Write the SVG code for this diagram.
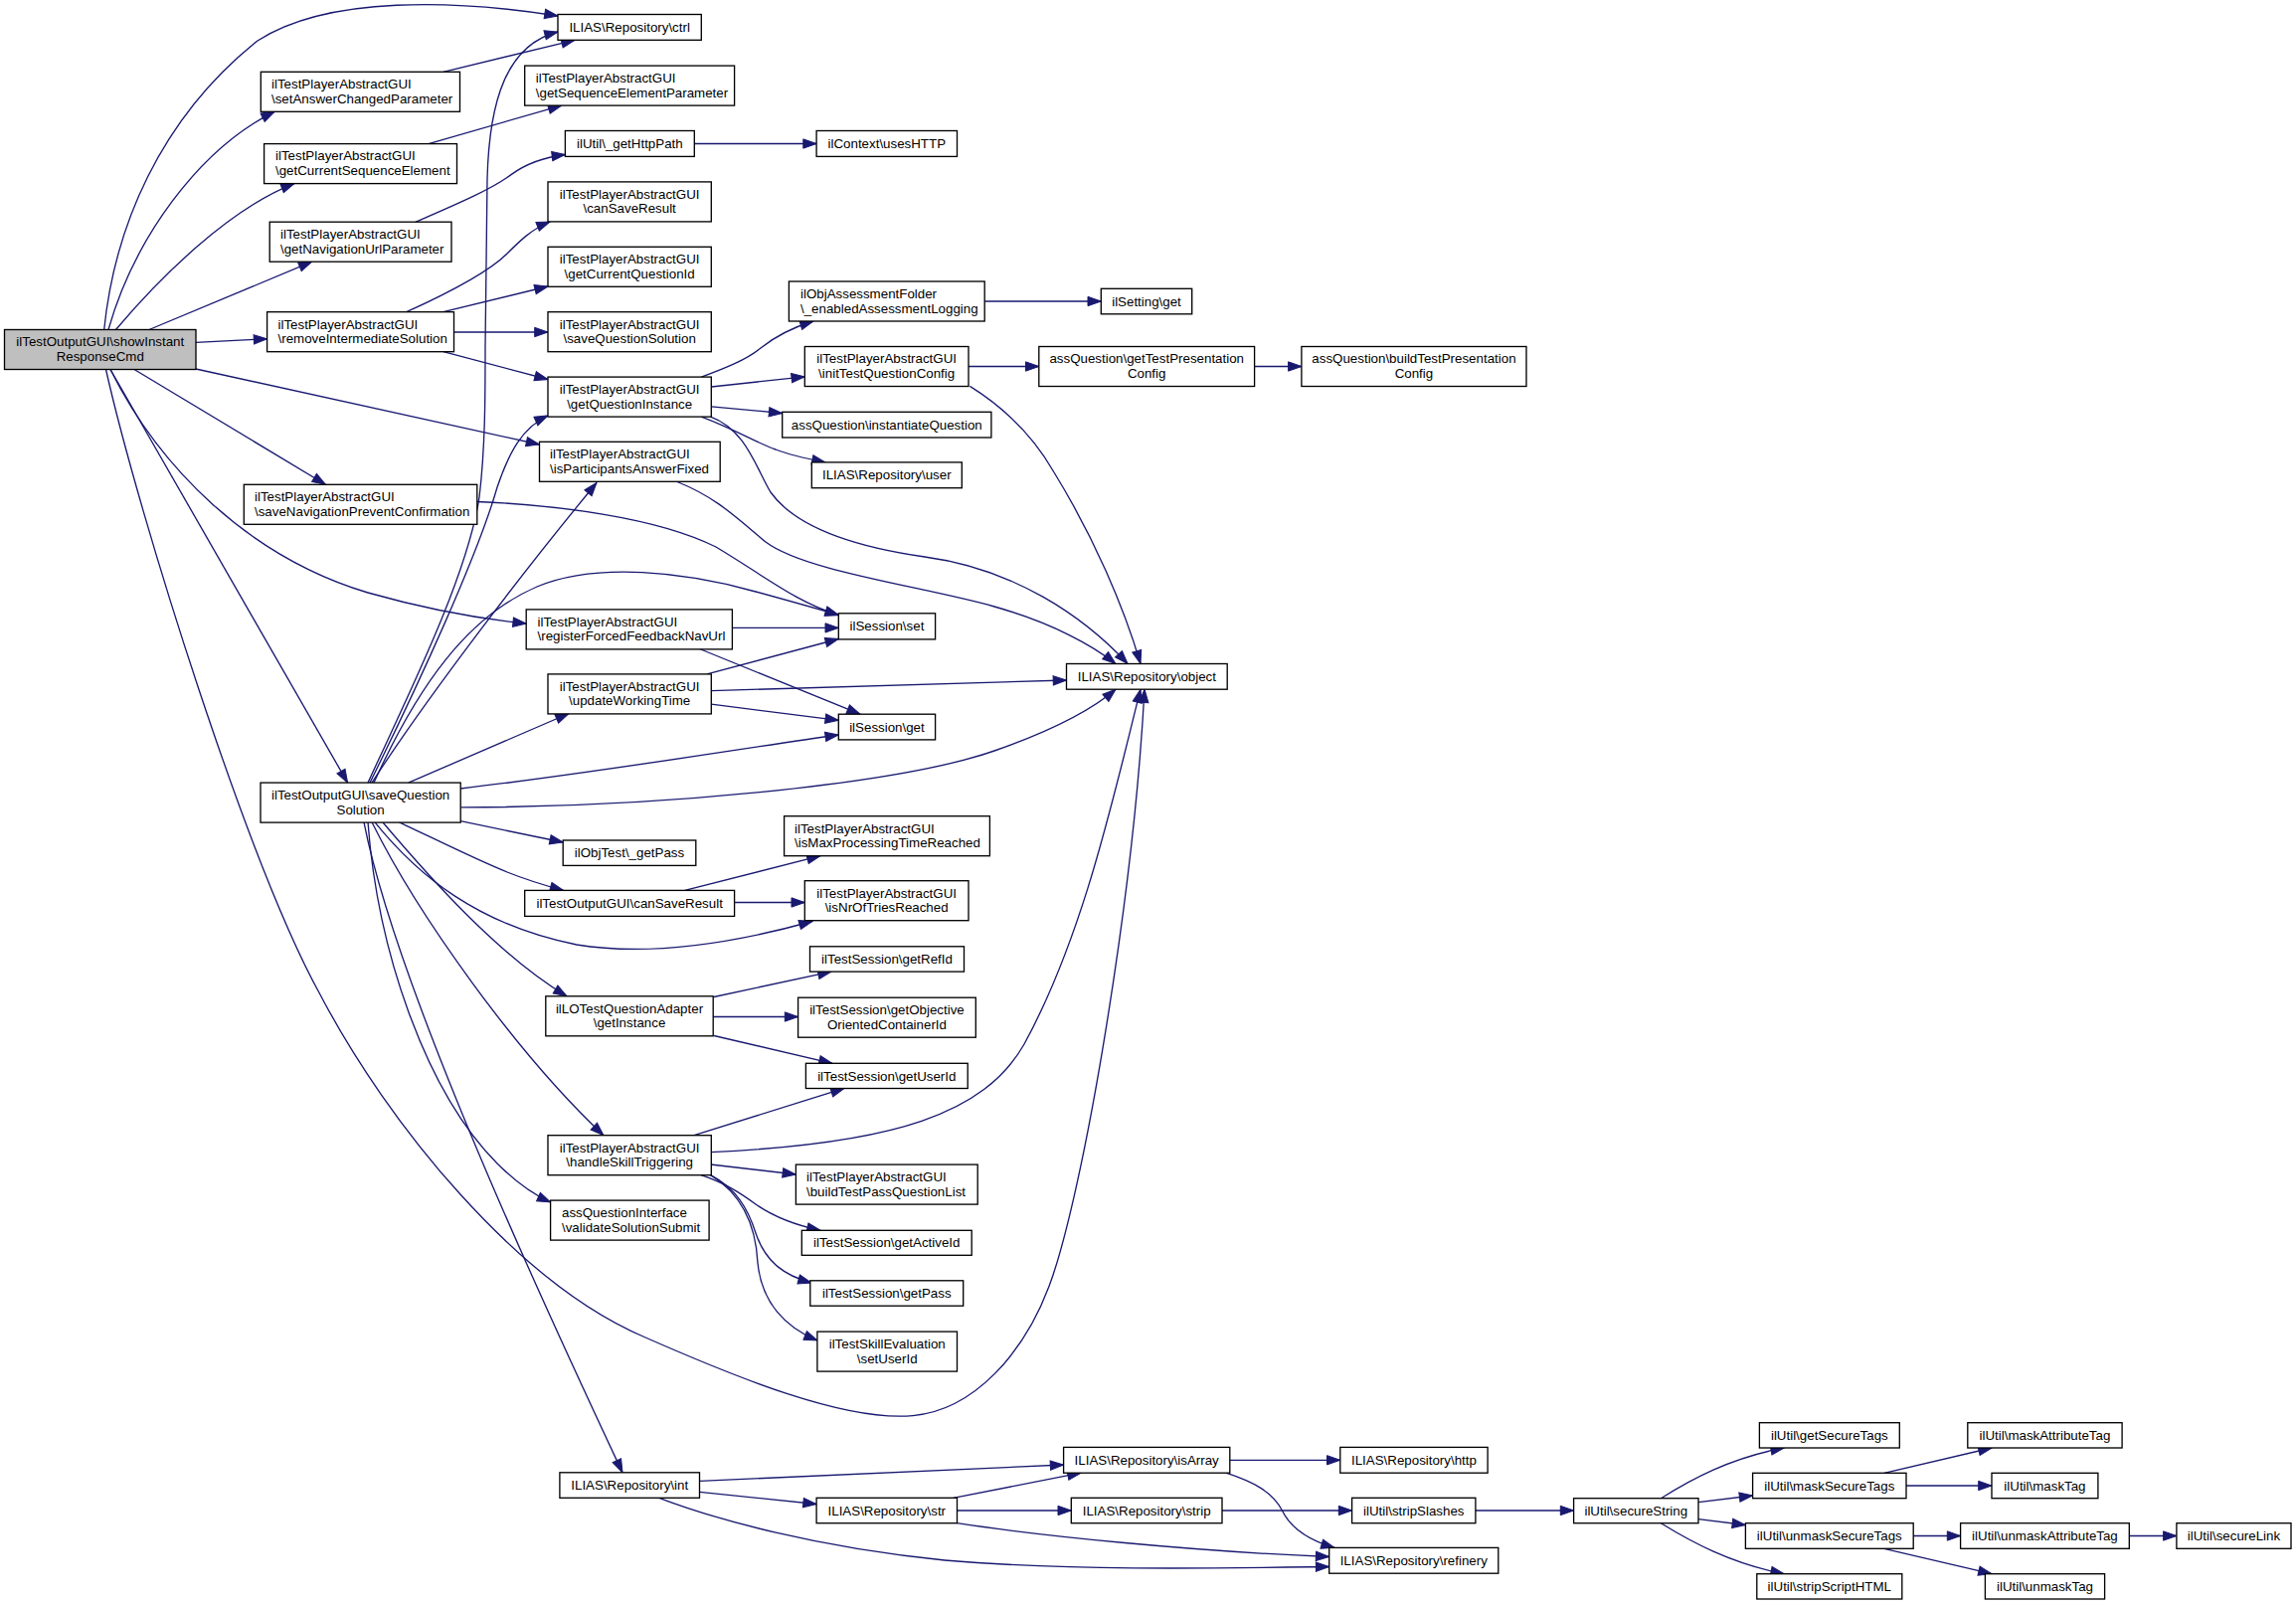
<svg xmlns="http://www.w3.org/2000/svg" width="2309" height="1614" viewBox="0 0 2309 1614">
<style>
.n rect{fill:#fff;stroke:#000;stroke-width:1.33}
.root rect{fill:#bfbfbf}
text{font-family:"Liberation Sans",Arial,Helvetica,sans-serif;font-size:13.33px;fill:#000}
.c{text-anchor:middle}
.l{text-anchor:start}
#edges path{fill:none;stroke:#191970;stroke-width:1.33;marker-end:url(#a)}
</style>
<defs>
<marker id="a" markerUnits="userSpaceOnUse" markerWidth="14" markerHeight="10" refX="13.3" refY="4.67" orient="auto" overflow="visible">
<path d="M0,0 L13.3,4.67 L0,9.33 z" fill="#191970" stroke="#191970" stroke-width="1"/>
</marker>
</defs>
<rect x="0" y="0" width="2309" height="1614" fill="#fff"/>
<g id="edges">
<path d="M104.7,331.5 C115,230 160,120 259,41 C330,-5 460,0 561,16"/>
<path d="M109,331.5 C135,240 200,150 276,112.3"/>
<path d="M116.5,331.5 C160,280 230,210 296,184.6"/>
<path d="M150,331.5 L313.7,263.2"/>
<path d="M197,344.4 L268.6,340.8"/>
<path d="M197,371 L542.5,447"/>
<path d="M135,371.5 L327.4,487.3"/>
<path d="M111,371.5 C160,470 250,560 370,596 C430,613 480,622 529.2,627"/>
<path d="M111,371.5 L349.6,787.1"/>
<path d="M106.5,371.5 C140,520 250,870 321.9,1000 C390,1130 520,1290 648,1344.5 C740,1385 850,1430 918,1423.6 C980,1418 1030,1360 1055,1293.6 C1090,1200 1140,900 1151,693.2"/>
<path d="M445.8,72.3 L578,40.3"/>
<path d="M431,144.6 L564.7,106.1"/>
<path d="M418,223.2 C460,205 495,190 514,175.6 C530,164 548,158 568.4,155.5"/>
<path d="M698.3,144.5 L821.1,144.5"/>
<path d="M408.8,313.7 C450,295 490,275 510,255 C522,243 535,230 553,223"/>
<path d="M445.8,313.7 L551,288"/>
<path d="M456.5,334 L551,334"/>
<path d="M445.8,353.6 L551,381.5"/>
<path d="M479.8,504.5 C560,508 660,520 720,550 C770,580 800,605 843.3,618.5"/>
<path d="M370,787.1 C410,700 470,580 482,500 C488,450 488,400 488,350 L490,180 C492,100 510,45 561,32"/>
<path d="M372,787.1 C420,690 480,560 500,490 C512,455 525,430 551,418"/>
<path d="M374,787.1 C430,700 530,570 600,485.5"/>
<path d="M376,787.1 C420,690 470,620 540,590 C600,565 690,575 760,595 C800,606 825,613 843.3,618.5"/>
<path d="M410.7,787.1 L572,717.5"/>
<path d="M463.2,793 C600,777 750,752 843.3,739"/>
<path d="M463.2,811.8 C650,812 900,790 1000,755 C1060,734 1100,712 1122,693.2"/>
<path d="M463.2,825.7 L566.2,847"/>
<path d="M401.4,826.8 C440,845 480,865 510,877 C530,885 550,891 566.6,895.4"/>
<path d="M377,826.8 C420,880 480,930 580,950 C660,963 750,945 817,926.5"/>
<path d="M384.8,826.8 C430,880 500,960 570,1001.8"/>
<path d="M374,826.8 C420,920 520,1060 607,1141.7"/>
<path d="M370,826.8 C380,960 430,1100 500,1170 C520,1190 538,1202 553.6,1209"/>
<path d="M366,826.8 C400,1000 560,1340 626,1480.8"/>
<path d="M688.7,895.4 L825,860.7"/>
<path d="M738.6,907.5 L809.3,907.5"/>
<path d="M718,1002.5 L836,977.1"/>
<path d="M717.2,1022.5 L802.6,1022.5"/>
<path d="M718,1041.5 L837,1069.3"/>
<path d="M698,1141.7 L849,1094.4"/>
<path d="M714.6,1158.6 C900,1150 990,1120 1030,1050 C1090,940 1120,800 1147,693.2"/>
<path d="M714.6,1171 L800.4,1181"/>
<path d="M705,1181.7 C730,1190 745,1200 760,1211 C780,1225 800,1232 825,1237.3"/>
<path d="M714.6,1181.7 C740,1195 752,1215 760,1240 C770,1270 790,1283 816,1290"/>
<path d="M714.6,1181.7 C745,1200 760,1230 762,1270 C766,1310 790,1335 822,1348"/>
<path d="M681,484.5 C720,500 740,520 770,545 C810,575 930,590 1000,610 C1060,627 1100,650 1122,667.5"/>
<path d="M714.6,419.1 C750,432 760,470 775,495 C800,530 860,550 930,560 C1020,572 1090,620 1134,667.5"/>
<path d="M975.4,388.4 C1010,410 1040,440 1060,475 C1100,540 1130,610 1147,667.5"/>
<path d="M705.3,379.1 C730,370 750,362 765,350 C780,338 795,330 818,323"/>
<path d="M715.3,389 L809.3,378.8"/>
<path d="M715.3,408.8 L786.7,415.5"/>
<path d="M705.3,419.1 C740,432 760,445 780,452 C795,458 810,461 830,464.9"/>
<path d="M990.2,303 L1107.3,303"/>
<path d="M974,368.5 L1044.8,368.5"/>
<path d="M1261.6,368.5 L1308.9,368.5"/>
<path d="M736.4,631.4 L843.3,631.4"/>
<path d="M703.5,652.5 L865,718.2"/>
<path d="M711,677.9 L843.3,642.5"/>
<path d="M715.3,694.6 L1072.5,684"/>
<path d="M715.3,708.2 L843.3,724.3"/>
<path d="M703.5,1489.4 L1069.6,1473"/>
<path d="M703.5,1500.4 L821.1,1512.5"/>
<path d="M662.8,1506.3 C720,1528 820,1556 950,1569 C1080,1580 1230,1577 1336.7,1575.5"/>
<path d="M958.7,1506.3 L1087,1481.2"/>
<path d="M962.5,1519 L1077.3,1519"/>
<path d="M962.5,1531.7 C1050,1545 1200,1560 1336.7,1565.5"/>
<path d="M1236.8,1468.3 L1347.8,1468.3"/>
<path d="M1233,1481.2 C1260,1490 1280,1500 1290,1520 C1300,1540 1320,1550 1342,1556.4"/>
<path d="M1229,1519 L1359.6,1519"/>
<path d="M1483.9,1519 L1582.6,1519"/>
<path d="M1670.4,1506.7 C1700,1488 1740,1466 1794.2,1456"/>
<path d="M1708,1510.7 L1762.6,1504"/>
<path d="M1708,1527.7 L1755.4,1533.5"/>
<path d="M1670.4,1531.7 C1700,1550 1740,1572 1794.2,1582.7"/>
<path d="M1894.8,1481.3 L2003,1456"/>
<path d="M1917,1494 L2003,1494"/>
<path d="M1924.2,1544.5 L1971.6,1544.5"/>
<path d="M1894.8,1557.3 L2003,1582.7"/>
<path d="M2141.3,1544.5 L2188.9,1544.5"/>
</g>
<g id="n1" class="n root"><rect x="4.5" y="331.5" width="192.5" height="40"/><text class="c" x="100.75" y="348.3">ilTestOutputGUI\showInstant</text><text class="c" x="100.75" y="363">ResponseCmd</text></g>
<g id="n2" class="n"><rect x="262.3" y="72.3" width="200.2" height="40"/><text class="l" x="273" y="89.1">ilTestPlayerAbstractGUI</text><text class="l" x="273" y="103.8">\setAnswerChangedParameter</text></g>
<g id="n3" class="n"><rect x="265.6" y="144.6" width="193.9" height="40"/><text class="l" x="277" y="161.4">ilTestPlayerAbstractGUI</text><text class="l" x="277" y="176.1">\getCurrentSequenceElement</text></g>
<g id="n4" class="n"><rect x="271.2" y="223.2" width="182.8" height="40"/><text class="l" x="282" y="240">ilTestPlayerAbstractGUI</text><text class="l" x="282" y="254.7">\getNavigationUrlParameter</text></g>
<g id="n5" class="n"><rect x="268.6" y="313.7" width="187.9" height="40"/><text class="l" x="279.5" y="330.5">ilTestPlayerAbstractGUI</text><text class="l" x="279.5" y="345.2">\removeIntermediateSolution</text></g>
<g id="n6" class="n"><rect x="245.3" y="487.3" width="234.5" height="40"/><text class="l" x="256" y="504.1">ilTestPlayerAbstractGUI</text><text class="l" x="256" y="518.8">\saveNavigationPreventConfirmation</text></g>
<g id="n7" class="n"><rect x="262" y="787.1" width="201.2" height="40"/><text class="c" x="362.6" y="803.9">ilTestOutputGUI\saveQuestion</text><text class="c" x="362.6" y="818.6">Solution</text></g>
<g id="n8" class="n"><rect x="561" y="14.5" width="144.3" height="25.8"/><text class="c" x="633.15" y="32">ILIAS\Repository\ctrl</text></g>
<g id="n9" class="n"><rect x="527.7" y="66.1" width="210.9" height="40"/><text class="l" x="538.8" y="82.9">ilTestPlayerAbstractGUI</text><text class="l" x="538.8" y="97.6">\getSequenceElementParameter</text></g>
<g id="n10" class="n"><rect x="568.4" y="131.5" width="129.9" height="25.9"/><text class="c" x="633.35" y="149.05">ilUtil\_getHttpPath</text></g>
<g id="n11" class="n"><rect x="821.1" y="131.5" width="141.4" height="25.9"/><text class="c" x="891.8" y="149.05">ilContext\usesHTTP</text></g>
<g id="n12" class="n"><rect x="551" y="182.9" width="164.3" height="40"/><text class="c" x="633.15" y="199.7">ilTestPlayerAbstractGUI</text><text class="c" x="633.15" y="214.4">\canSaveResult</text></g>
<g id="n13" class="n"><rect x="551" y="248.3" width="164.3" height="40"/><text class="c" x="633.15" y="265.1">ilTestPlayerAbstractGUI</text><text class="c" x="633.15" y="279.8">\getCurrentQuestionId</text></g>
<g id="n14" class="n"><rect x="551" y="313.7" width="164.3" height="40"/><text class="c" x="633.15" y="330.5">ilTestPlayerAbstractGUI</text><text class="c" x="633.15" y="345.2">\saveQuestionSolution</text></g>
<g id="n15" class="n"><rect x="551" y="379.1" width="164.3" height="40"/><text class="c" x="633.15" y="395.9">ilTestPlayerAbstractGUI</text><text class="c" x="633.15" y="410.6">\getQuestionInstance</text></g>
<g id="n16" class="n"><rect x="542.5" y="444.3" width="181.7" height="40"/><text class="l" x="553" y="461.1">ilTestPlayerAbstractGUI</text><text class="l" x="553" y="475.8">\isParticipantsAnswerFixed</text></g>
<g id="n17" class="n"><rect x="793.4" y="283" width="196.8" height="40"/><text class="l" x="805" y="299.8">ilObjAssessmentFolder</text><text class="l" x="805" y="314.5">\_enabledAssessmentLogging</text></g>
<g id="n18" class="n"><rect x="809.3" y="348.5" width="164.7" height="40"/><text class="c" x="891.65" y="365.3">ilTestPlayerAbstractGUI</text><text class="c" x="891.65" y="380">\initTestQuestionConfig</text></g>
<g id="n19" class="n"><rect x="786.7" y="414.3" width="210.2" height="25.7"/><text class="c" x="891.8" y="431.75">assQuestion\instantiateQuestion</text></g>
<g id="n20" class="n"><rect x="816.3" y="464.9" width="151" height="25.8"/><text class="c" x="891.8" y="482.4">ILIAS\Repository\user</text></g>
<g id="n21" class="n"><rect x="1107.3" y="290.3" width="91.4" height="25.5"/><text class="c" x="1153" y="307.65">ilSetting\get</text></g>
<g id="n22" class="n"><rect x="1044.8" y="348.5" width="216.8" height="40"/><text class="c" x="1153.2" y="365.3">assQuestion\getTestPresentation</text><text class="c" x="1153.2" y="380">Config</text></g>
<g id="n23" class="n"><rect x="1308.9" y="348.5" width="226.1" height="40"/><text class="c" x="1421.95" y="365.3">assQuestion\buildTestPresentation</text><text class="c" x="1421.95" y="380">Config</text></g>
<g id="n24" class="n"><rect x="529.2" y="612.9" width="207.2" height="40"/><text class="l" x="540.5" y="629.7">ilTestPlayerAbstractGUI</text><text class="l" x="540.5" y="644.4">\registerForcedFeedbackNavUrl</text></g>
<g id="n25" class="n"><rect x="843.3" y="616.8" width="97.3" height="26.1"/><text class="c" x="891.95" y="634.45">ilSession\set</text></g>
<g id="n26" class="n"><rect x="551" y="677.9" width="164.3" height="40"/><text class="c" x="633.15" y="694.7">ilTestPlayerAbstractGUI</text><text class="c" x="633.15" y="709.4">\updateWorkingTime</text></g>
<g id="n27" class="n"><rect x="843.3" y="718.2" width="97.3" height="25.7"/><text class="c" x="891.95" y="735.65">ilSession\get</text></g>
<g id="n28" class="n"><rect x="1072.5" y="667.5" width="161.7" height="25.7"/><text class="c" x="1153.35" y="684.95">ILIAS\Repository\object</text></g>
<g id="n29" class="n"><rect x="566.2" y="845" width="133.6" height="25.4"/><text class="c" x="633" y="862.3">ilObjTest\_getPass</text></g>
<g id="n30" class="n"><rect x="788.6" y="820.7" width="206.8" height="40"/><text class="l" x="799" y="837.5">ilTestPlayerAbstractGUI</text><text class="l" x="799" y="852.2">\isMaxProcessingTimeReached</text></g>
<g id="n31" class="n"><rect x="527.7" y="895.4" width="210.9" height="26"/><text class="c" x="633.15" y="913">ilTestOutputGUI\canSaveResult</text></g>
<g id="n32" class="n"><rect x="809.3" y="885.7" width="164.7" height="40"/><text class="c" x="891.65" y="902.5">ilTestPlayerAbstractGUI</text><text class="c" x="891.65" y="917.2">\isNrOfTriesReached</text></g>
<g id="n33" class="n"><rect x="814.5" y="951.8" width="155" height="25.3"/><text class="c" x="892" y="969.05">ilTestSession\getRefId</text></g>
<g id="n34" class="n"><rect x="548.8" y="1001.8" width="168.4" height="40"/><text class="c" x="633" y="1018.6">ilLOTestQuestionAdapter</text><text class="c" x="633" y="1033.3">\getInstance</text></g>
<g id="n35" class="n"><rect x="802.6" y="1003.2" width="178.7" height="40"/><text class="c" x="891.95" y="1020">ilTestSession\getObjective</text><text class="c" x="891.95" y="1034.7">OrientedContainerId</text></g>
<g id="n36" class="n"><rect x="810.4" y="1069.3" width="162.8" height="25.2"/><text class="c" x="891.8" y="1086.5">ilTestSession\getUserId</text></g>
<g id="n37" class="n"><rect x="551" y="1141.7" width="164.3" height="40"/><text class="c" x="633.15" y="1158.5">ilTestPlayerAbstractGUI</text><text class="c" x="633.15" y="1173.2">\handleSkillTriggering</text></g>
<g id="n38" class="n"><rect x="800.4" y="1171.1" width="182.8" height="40"/><text class="l" x="811" y="1187.9">ilTestPlayerAbstractGUI</text><text class="l" x="811" y="1202.6">\buildTestPassQuestionList</text></g>
<g id="n39" class="n"><rect x="553.6" y="1207.1" width="159.5" height="40"/><text class="l" x="565" y="1223.9">assQuestionInterface</text><text class="l" x="565" y="1238.6">\validateSolutionSubmit</text></g>
<g id="n40" class="n"><rect x="806.3" y="1237.3" width="170.9" height="25"/><text class="c" x="891.75" y="1254.4">ilTestSession\getActiveId</text></g>
<g id="n41" class="n"><rect x="814.8" y="1287.8" width="153.9" height="25.4"/><text class="c" x="891.75" y="1305.1">ilTestSession\getPass</text></g>
<g id="n42" class="n"><rect x="821.9" y="1339.1" width="140.6" height="40"/><text class="c" x="892.2" y="1355.9">ilTestSkillEvaluation</text><text class="c" x="892.2" y="1370.6">\setUserId</text></g>
<g id="n43" class="n"><rect x="562.9" y="1480.8" width="140.6" height="25.5"/><text class="c" x="633.2" y="1498.15">ILIAS\Repository\int</text></g>
<g id="n44" class="n"><rect x="821.1" y="1506.3" width="141.4" height="25.4"/><text class="c" x="891.8" y="1523.6">ILIAS\Repository\str</text></g>
<g id="n45" class="n"><rect x="1069.6" y="1455.4" width="167.2" height="25.8"/><text class="c" x="1153.2" y="1472.9">ILIAS\Repository\isArray</text></g>
<g id="n46" class="n"><rect x="1347.8" y="1455.4" width="148.3" height="25.8"/><text class="c" x="1421.95" y="1472.9">ILIAS\Repository\http</text></g>
<g id="n47" class="n"><rect x="1077.3" y="1506.3" width="151.7" height="25.4"/><text class="c" x="1153.15" y="1523.6">ILIAS\Repository\strip</text></g>
<g id="n48" class="n"><rect x="1359.6" y="1506.3" width="124.3" height="25.4"/><text class="c" x="1421.75" y="1523.6">ilUtil\stripSlashes</text></g>
<g id="n49" class="n"><rect x="1336.7" y="1556.4" width="170.1" height="25.8"/><text class="c" x="1421.75" y="1573.9">ILIAS\Repository\refinery</text></g>
<g id="n50" class="n"><rect x="1582.6" y="1506.7" width="125.4" height="25"/><text class="c" x="1645.3" y="1523.8">ilUtil\secureString</text></g>
<g id="n51" class="n"><rect x="1769.4" y="1430.7" width="140.9" height="25.3"/><text class="c" x="1839.85" y="1447.95">ilUtil\getSecureTags</text></g>
<g id="n52" class="n"><rect x="1762.6" y="1481.3" width="154.4" height="25.4"/><text class="c" x="1839.8" y="1498.6">ilUtil\maskSecureTags</text></g>
<g id="n53" class="n"><rect x="1755.4" y="1531.7" width="168.8" height="25.6"/><text class="c" x="1839.8" y="1549.1">ilUtil\unmaskSecureTags</text></g>
<g id="n54" class="n"><rect x="1766.8" y="1582.7" width="146" height="25.3"/><text class="c" x="1839.8" y="1599.95">ilUtil\stripScriptHTML</text></g>
<g id="n55" class="n"><rect x="1978.8" y="1430.7" width="155.3" height="25.3"/><text class="c" x="2056.45" y="1447.95">ilUtil\maskAttributeTag</text></g>
<g id="n56" class="n"><rect x="2003" y="1481.3" width="106.9" height="25.4"/><text class="c" x="2056.45" y="1498.6">ilUtil\maskTag</text></g>
<g id="n57" class="n"><rect x="1971.6" y="1531.7" width="169.7" height="25.6"/><text class="c" x="2056.45" y="1549.1">ilUtil\unmaskAttributeTag</text></g>
<g id="n58" class="n"><rect x="2188.9" y="1531.7" width="115.1" height="25.6"/><text class="c" x="2246.45" y="1549.1">ilUtil\secureLink</text></g>
<g id="n59" class="n"><rect x="1996.4" y="1582.7" width="120.2" height="25.3"/><text class="c" x="2056.5" y="1599.95">ilUtil\unmaskTag</text></g>
</svg>
